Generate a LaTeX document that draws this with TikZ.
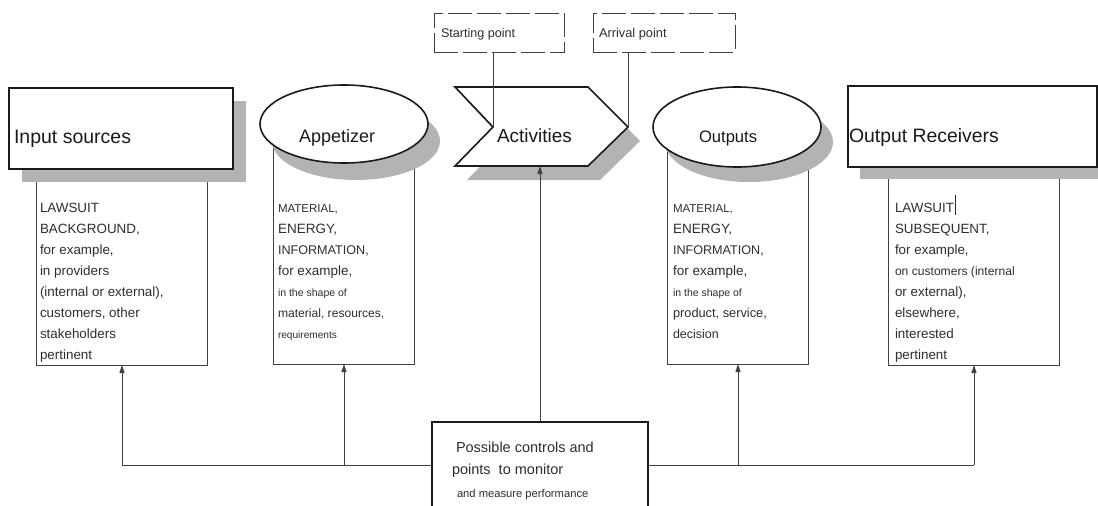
\documentclass[tikz,border=0pt]{standalone}
\usepackage{fontspec}
\setmainfont{Liberation Sans}
\usetikzlibrary{arrows.meta,shapes.geometric}
\definecolor{shd}{HTML}{B3B3B3}
\definecolor{lc}{HTML}{404040}
\definecolor{tc}{HTML}{2E2E2E}
\definecolor{hc}{HTML}{1A1A1A}
\newcommand\fs[1]{\fontsize{#1}{#1}\selectfont}
\begin{document}
\begin{tikzpicture}[x=1pt,y=-1pt,
  shadowfill/.style={fill=shd,draw=none},
  mainshape/.style={draw=hc,line width=1.6pt,fill=white,line join=miter},
  textbox/.style={draw=lc,line width=0.9pt,rectangle,inner sep=0pt,outer sep=0pt},
  conn/.style={draw=lc,line width=0.9pt},
  arr/.style={conn,-{Triangle[length=8pt,width=5pt]}},
  dbox/.style={draw=lc,line width=1pt,dash pattern=on 24pt off 5pt,rectangle,inner sep=0pt,outer sep=0pt},
  lbl/.style={anchor=base west,inner sep=0pt,outer sep=0pt,text=tc},
  ttl/.style={anchor=base west,inner sep=0pt,outer sep=0pt,text=hc},
]
\useasboundingbox[fill=white] (0,0) rectangle (1098,506);

% ---------- text boxes (drawn first, tops hidden) ----------
\node[textbox,minimum width=171pt,minimum height=190pt] (int) at (121.5,270) {};
\node[textbox,minimum width=141pt,minimum height=224pt] (appt) at (343.5,252) {};
\node[textbox,minimum width=141pt,minimum height=224pt] (outt) at (737.5,252) {};
\node[textbox,minimum width=171pt,minimum height=193pt] (rect) at (973.5,268.5) {};

% ---------- shadows ----------
\fill[shadowfill] (22,101) rectangle (246,182);
\fill[shadowfill] (356,141) ellipse [x radius=84, y radius=39];
\fill[shadowfill] (467,101) -- (600,101) -- (640,141) -- (600,180) -- (467,180) -- (505,141) -- cycle;
\fill[shadowfill] (749,142) ellipse [x radius=84, y radius=40];
\fill[shadowfill] (860,99) rectangle (1110,179);

% ---------- main shapes ----------
\node[mainshape,rectangle,inner sep=0pt,minimum width=224pt,minimum height=81pt] (insrc) at (121,128.5) {};
\node[mainshape,ellipse,inner sep=0pt,minimum width=168pt,minimum height=78pt] (app) at (344,124) {};
\coordinate (a1) at (455,87);
\coordinate (a2) at (588,87);
\coordinate (a3) at (628,127);
\coordinate (a4) at (588,166);
\coordinate (a5) at (455,166);
\coordinate (a6) at (493,127);
\draw[mainshape] (a1) -- (a2) -- (a3) -- (a4) -- (a5) -- (a6) -- cycle;
\node[mainshape,ellipse,inner sep=0pt,minimum width=168pt,minimum height=80pt] (outs) at (737,127) {};
\node[mainshape,rectangle,inner sep=0pt,minimum width=249pt,minimum height=81pt] (recv) at (972.5,126.5) {};

% ---------- titles ----------
\node[ttl,font=\fs{19.5}] (tin) at (14,143) {Input sources};
\node[ttl,font=\fs{18}] (tapp) at (299,142) {Appetizer};
\node[ttl,font=\fs{19}] (tact) at (497,142) {Activities};
\node[ttl,font=\fs{16.6}] (tout) at (699,142) {Outputs};
\node[ttl,font=\fs{19.4}] (trec) at (849,142) {Output Receivers};

% ---------- dashed boxes ----------
\node[dbox,minimum width=130pt,minimum height=39pt] (sp) at (499,32.5) {};
\node[dbox,minimum width=142pt,minimum height=39pt] (ap) at (664,32.5) {};
\node[lbl,font=\fs{12.6}] (spt) at (441,37) {Starting point};
\node[lbl,font=\fs{12.8}] (apt) at (599,37) {Arrival point};
\draw[conn] (a6 |- sp.south) -- (a6);
\draw[conn] (a3 |- ap.south) -- (a3);

% ---------- body texts ----------
\foreach \s/\t [count=\k] in {13.4/LAWSUIT, 13.4/{BACKGROUND,}, 13.4/{for example,}, 13.4/in providers,
  13.4/{(internal or external),}, 13.4/{customers, other}, 13.4/stakeholders, 13.4/pertinent}
  \node[lbl,font=\fs{\s}] (in\k) at (40,{191+21*\k}) {\t};

\foreach \s/\t [count=\k] in {11.5/{MATERIAL,}, 13.5/{ENERGY,}, 12.6/{INFORMATION,}, 13.5/{for example,},
  10.5/in the shape of, 12.1/{material, resources,}, 10.1/requirements}
  \node[lbl,font=\fs{\s}] (ap\k) at (278,{191+21*\k}) {\t};

\foreach \s/\t [count=\k] in {11.5/{MATERIAL,}, 13.5/{ENERGY,}, 12.6/{INFORMATION,}, 13.5/{for example,},
  10.5/in the shape of, 12.8/{product,\ service,}, 12.5/decision}
  \node[lbl,font=\fs{\s}] (ou\k) at (673,{191+21*\k}) {\t};

\foreach \s/\t [count=\k] in {13.4/LAWSUIT, 13.4/{SUBSEQUENT,}, 13.4/{for example,}, 12.1/on customers (internal,
  13.4/{or external),}, 13.4/{elsewhere,}, 13.4/interested, 13.4/pertinent}
  \node[lbl,font=\fs{\s}] (or\k) at (895,{191+21*\k}) {\t};
\draw[draw=tc,line width=0.6pt] ([shift={(1.5,3)}]or1.base east) -- ++(0,-20);

% ---------- controls box ----------
\node[mainshape,rectangle,inner sep=0pt,minimum width=216pt,minimum height=110pt] (ctrl) at (540,477) {};
\node[lbl,font=\fs{14.5}] (c1) at (456,452) {Possible controls and};
\node[lbl,font=\fs{14.5}] (c2) at (452,474) {points\ \ to monitor};
\node[lbl,font=\fs{11.2}] (c3) at (457,497) {and\ measure performance};

% ---------- connectors ----------
\coordinate (j1) at (122,465);
\coordinate (j2) at (344,465);
\coordinate (j3) at (738,465);
\coordinate (j4) at (974,465);
\coordinate (actb) at (540,166);
\draw[conn] (j1) -- (ctrl.west |- j1);
\draw[conn] (ctrl.east |- j4) -- (j4);
\draw[arr] (j1) -- (j1 |- int.south);
\draw[arr] (j2) -- (j2 |- appt.south);
\draw[arr] (j3) -- (j3 |- outt.south);
\draw[arr] (j4) -- (j4 |- rect.south);
\draw[arr] (ctrl.north) -- (actb);
\end{tikzpicture}
\end{document}
